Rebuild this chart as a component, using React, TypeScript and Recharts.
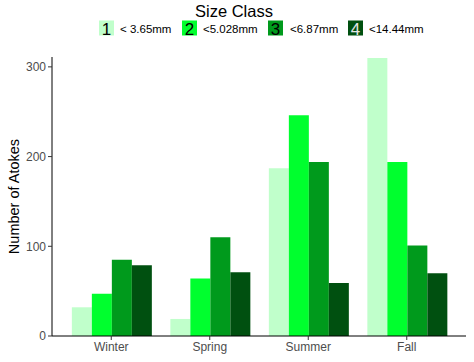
import React from 'react';
import { BarChart, Bar, XAxis, YAxis, Label } from 'recharts';

const seasons = ['Winter', 'Spring', 'Summer', 'Fall'];
const class1 = [32, 19, 187, 310];
const class2 = [47, 64, 246, 194];
const class3 = [85, 110, 194, 101];
const class4 = [79, 71, 59, 70];
const yTicks = [0, 100, 200, 300];
const classKeys = ['1', '2', '3', '4'];
const classLabels = ['< 3.65mm', '<5.028mm', '<6.87mm', '<14.44mm'];
const colors = ['#c0ffcb', '#00ff2e', '#009a1c', '#005010'];

const data = seasons.map((s, i) => ({
  season: s,
  c1: class1[i],
  c2: class2[i],
  c3: class3[i],
  c4: class4[i],
}));
const seriesKeys = ['c1', 'c2', 'c3', 'c4'];

const font = '"Liberation Sans", Arial, sans-serif';

const legendPos = [
  { key: 99, text: 120 },
  { key: 182, text: 203 },
  { key: 268, text: 290 },
  { key: 348, text: 369 },
];

export default function App() {
  return (
    <div style={{ position: 'absolute', left: 0, top: 0, width: 474, height: 362, background: '#fff', fontFamily: font }}>
      <BarChart
        width={474}
        height={362}
        data={data}
        margin={{ top: 57, right: 8, bottom: 0, left: 12 }}
        barCategoryGap="10%"
        barGap={0}
      >
        <XAxis
          dataKey="season"
          padding={{ left: 10, right: 10 }}
          axisLine={{ stroke: '#000', strokeWidth: 1 }}
          tickLine={{ stroke: '#333' }}
          tickSize={4}
          tick={{ fill: '#4d4d4d', fontSize: 12, fontFamily: font }}
          height={26}
        />
        <YAxis
          domain={[0, 311]}
          ticks={yTicks}
          width={40}
          axisLine={{ stroke: '#000', strokeWidth: 1 }}
          tickLine={{ stroke: '#333' }}
          tickSize={4}
          tick={{ fill: '#4d4d4d', fontSize: 12, fontFamily: font }}
        >
          <Label
            content={({ viewBox }: any) => (
              <text
                x={19}
                y={viewBox.y + viewBox.height / 2}
                transform={`rotate(-90 19 ${viewBox.y + viewBox.height / 2})`}
                textAnchor="middle"
                fontSize={14.5}
                fontFamily={font}
                fill="#000"
              >
                Number of Atokes
              </text>
            )}
          />
        </YAxis>
        {seriesKeys.map((k, i) => (
          <Bar key={k} dataKey={k} fill={colors[i]} isAnimationActive={false} />
        ))}
      </BarChart>
      <svg width={474} height={50} style={{ position: 'absolute', left: 0, top: 0 }}>
        <text x={234} y={17} textAnchor="middle" fontSize={16.5} fontFamily={font} fill="#000">
          Size Class
        </text>
        {classKeys.map((k, i) => (
          <g key={k}>
            <rect x={legendPos[i].key} y={20.5} width={15} height={15} fill={colors[i]} />
            <text x={legendPos[i].key + 7.5} y={34.5} textAnchor="middle" fontSize={17} fontFamily={font} fill={i === 3 ? '#e6e6e6' : '#000'}>
              {k}
            </text>
            <text x={legendPos[i].text} y={33} fontSize={11.5} fontFamily={font} fill="#000">
              {classLabels[i]}
            </text>
          </g>
        ))}
      </svg>
    </div>
  );
}
